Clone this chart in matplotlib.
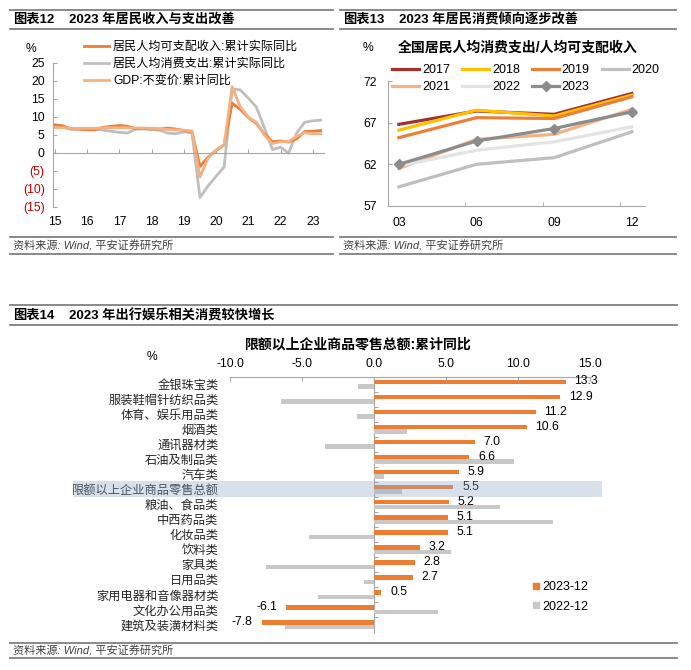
import matplotlib
matplotlib.use('Agg')
import matplotlib.pyplot as plt
import matplotlib.transforms as mtransforms
from matplotlib.lines import Line2D
from matplotlib.patches import Rectangle
import numpy as np

plt.rcParams['font.family'] = ['Liberation Sans', 'Noto Sans CJK SC']
plt.rcParams['font.size'] = 9
plt.rcParams['axes.unicode_minus'] = False

W, H = 691, 670

# ---- 图表12: 2015Q3 - 2023Q4, 累计同比 (%)
year_labels = ['15', '16', '17', '18', '19', '20', '21', '22', '23']
income = [7.7, 7.4, 6.5, 6.5, 6.3, 6.3, 7.0, 7.3, 7.5, 7.3, 6.6, 6.6, 6.6, 6.5, 6.8, 6.5, 6.1,
          5.8, -3.9, -1.3, 0.6, 2.1, 13.7, 12.0, 9.7, 8.1, 5.1, 3.0, 3.2, 2.9, 3.8, 5.8, 5.9, 6.1]
consumption = [7.0, 6.9, 6.6, 6.5, 6.4, 6.6, 6.2, 5.9, 5.6, 5.4, 6.5, 6.6, 6.3, 6.2, 5.4, 5.2, 5.7,
               5.5, -12.5, -9.3, -6.6, -4.0, 17.6, 17.4, 15.1, 12.6, 6.9, 0.8, 1.5, -0.2, 5.4, 8.4, 8.8, 9.0]
gdp = [6.9, 6.9, 6.7, 6.7, 6.7, 6.7, 6.9, 6.9, 6.9, 6.9, 6.8, 6.8, 6.7, 6.6, 6.4, 6.3, 6.2,
       6.0, -6.8, -1.6, 0.7, 2.2, 18.3, 12.7, 9.8, 8.4, 4.8, 2.5, 3.0, 3.0, 4.5, 5.5, 5.2, 5.2]

# ---- 图表13: 人均消费支出/人均可支配收入 (%)
months = ['03', '06', '09', '12']
r2017 = [66.8, 68.4, 68.0, 70.5]
r2018 = [66.1, 68.5, 67.8, 70.3]
r2019 = [65.2, 67.6, 67.5, 70.1]
r2020 = [59.3, 62.0, 62.8, 65.9]
r2021 = [61.5, 65.0, 65.6, 68.6]
r2022 = [61.8, 63.7, 64.7, 66.5]
r2023 = [62.0, 64.8, 66.3, 68.3]

# ---- 图表14: 限额以上企业商品零售总额:累计同比 (%)
categories = ['金银珠宝类', '服装鞋帽针纺织品类', '体育、娱乐用品类', '烟酒类', '通讯器材类',
              '石油及制品类', '汽车类', '限额以上企业商品零售总额', '粮油、食品类', '中西药品类',
              '化妆品类', '饮料类', '家具类', '日用品类', '家用电器和音像器材类',
              '文化办公用品类', '建筑及装潢材料类']
yoy_2023 = [13.3, 12.9, 11.2, 10.6, 7.0, 6.6, 5.9, 5.5, 5.2, 5.1, 5.1, 3.2, 2.8, 2.7, 0.5, -6.1, -7.8]
yoy_2022 = [-1.1, -6.5, -1.2, 2.3, -3.4, 9.7, 0.7, 1.9, 8.7, 12.4, -4.5, 5.3, -7.5, -0.7, -3.9, 4.4, -6.2]

ORANGE = '#ED7D31'
GRID = '#A6A6A6'
RULE = '#808080'

fig = plt.figure(figsize=(W / 100, H / 100), dpi=100)


def rect(x0, y0, x1, y1):
    return [x0 / W, 1 - y1 / H, (x1 - x0) / W, (y1 - y0) / H]


def ftext(x, y, s, **kw):
    kw.setdefault('va', 'center')
    fig.text(x / W, 1 - y / H, s, **kw)


def rule(x0, x1, y, lw=1.3):
    fig.add_artist(Line2D([x0 / W, x1 / W], [1 - y / H, 1 - y / H], lw=lw, color=RULE))


def frame(x0, x1, ytop, ytitle, yfoot, ybottom, num, title):
    rule(x0, x1, ytop)
    rule(x0, x1, ytitle)
    rule(x0, x1, yfoot)
    rule(x0, x1, ybottom)
    ftext(x0 + 3, (ytop + ytitle) / 2 + 0.5, '图表' + num, weight='bold', size=9.5)
    ftext(x0 + 59, (ytop + ytitle) / 2 + 0.5, title, weight='bold', size=9.5)
    ftext(x0 + 3, (yfoot + ybottom) / 2 + 0.5, '资料来源: Wind, 平安证券研究所',
          style='italic', size=8, color='#404040')


frame(10, 333, 9.5, 28.5, 237, 254, '12', '2023 年居民收入与支出改善')
frame(340, 676, 9.5, 28.5, 237, 254, '13', '2023 年居民消费倾向逐步改善')
frame(10, 677, 305, 325, 643, 658, '14', '2023 年出行娱乐相关消费较快增长')

# ---------------- 图表12
ax1 = fig.add_axes(rect(53, 62.5, 324, 206.5))
x = np.arange(len(income))
ax1.plot(x, consumption, color='#BFBFBF', lw=2, label='居民人均消费支出:累计实际同比')
ax1.plot(x, income, color=ORANGE, lw=2, label='居民人均可支配收入:累计实际同比')
ax1.plot(x, gdp, color='#F4B183', lw=2, label='GDP:不变价:累计同比')
ax1.set_xlim(-0.25, 33.4)
ax1.set_ylim(-15, 25)
for s in ['top', 'right']:
    ax1.spines[s].set_visible(False)
ax1.spines['left'].set_color(GRID)
ax1.spines['bottom'].set_color(GRID)
ax1.spines['bottom'].set_position(('data', 0))
yt = list(range(-15, 30, 5))
ax1.set_yticks(yt, [f'({-v})' if v < 0 else str(v) for v in yt])
for lab, v in zip(ax1.get_yticklabels(), yt):
    if v < 0:
        lab.set_color('#C00000')
ax1.tick_params(axis='y', direction='in', length=3, color=GRID, pad=6, labelsize=8.7)
ax1.set_xticks(np.arange(0, 33, 4))
ax1.tick_params(axis='x', direction='in', length=3, color=GRID, labelbottom=False)
sec1 = ax1.secondary_xaxis('bottom')
sec1.spines['bottom'].set_visible(False)
sec1.set_xticks(np.arange(0, 33, 4), year_labels)
sec1.tick_params(length=0, pad=7, labelsize=8.7)
h1, l1 = ax1.get_legend_handles_labels()
ax1.legend([h1[1], h1[0], h1[2]], [l1[1], l1[0], l1[2]], loc='upper left',
           bbox_to_anchor=(84 / W, 1 - 41 / H), bbox_transform=fig.transFigure,
           frameon=False, fontsize=8.7, handlelength=2.1, handletextpad=0.3,
           labelspacing=0.42, borderpad=0, borderaxespad=0)
ftext(31, 49, '%', ha='center', size=8.7)

# ---------------- 图表13
ax2 = fig.add_axes(rect(388, 81, 645, 206))
xm = np.arange(len(months))
series13 = [('2017', r2017, '#A0312E', None), ('2018', r2018, '#FFC000', None),
            ('2019', r2019, '#E8803A', None), ('2020', r2020, '#BFBFBF', None),
            ('2021', r2021, '#F4B183', None), ('2022', r2022, '#E3E3E3', None),
            ('2023', r2023, '#8C8C8C', 'D')]
handles = {}
for name, vals, col, mk in series13:
    ln, = ax2.plot(xm, vals, color=col, lw=2.3, marker=mk, markersize=5, label=name)
    handles[name] = ln
ax2.set_xlim(-0.14, 3.17)
ax2.set_ylim(57, 72)
for s in ['top', 'right']:
    ax2.spines[s].set_visible(False)
ax2.spines['left'].set_color(GRID)
ax2.spines['bottom'].set_color(GRID)
ax2.set_yticks([57, 62, 67, 72])
ax2.tick_params(axis='y', direction='in', length=3, color=GRID, pad=8, labelsize=8.7)
ax2.set_xticks(xm, months)
ax2.set_xticks(xm[1:] - 0.15, minor=True)
ax2.tick_params(axis='x', which='major', length=0, pad=8, labelsize=8.7)
ax2.tick_params(axis='x', which='minor', direction='in', length=3, color=GRID)
order = ['2017', '2021', '2018', '2022', '2019', '2023', '2020']
ax2.legend([handles[k] for k in order], order, ncol=4, loc='upper left',
           bbox_to_anchor=(392 / W, 1 - 64 / H), bbox_transform=fig.transFigure,
           frameon=False, fontsize=9, handlelength=2.2, handletextpad=0.2,
           columnspacing=0.95, labelspacing=0.42, borderpad=0, borderaxespad=0)
ftext(518, 48, '全国居民人均消费支出/人均可支配收入', ha='center', weight='bold', size=10)
ftext(368, 48, '%', ha='center', size=8.7)

# ---------------- 图表14
ax3 = fig.add_axes(rect(230.3, 376.5, 590.3, 632.5))
yc = np.arange(len(categories))
ax3.barh(yc - 0.15, yoy_2023, height=0.3, color=ORANGE, label='2023-12')
ax3.barh(yc + 0.15, yoy_2022, height=0.3, color='#C8C8C8', label='2022-12')
ax3.set_xlim(-10, 15)
ax3.set_ylim(len(categories) - 0.5, -0.5)
for s in ['left', 'right', 'bottom']:
    ax3.spines[s].set_visible(False)
ax3.spines['top'].set_color(GRID)
ax3.xaxis.tick_top()
xt = [-10, -5, 0, 5, 10, 15]
ax3.set_xticks(xt, [f'{v:.1f}' for v in xt])
ax3.tick_params(axis='x', direction='in', length=3, color=GRID, pad=5, labelsize=8.7)
ax3.set_yticks(yc, categories)
ax3.tick_params(axis='y', length=0, pad=8.5, labelsize=8.8, labelcolor='#262626')
for yy, v in zip(yc, yoy_2023):
    if v >= 0:
        ax3.text(v + 0.6, yy - 0.17, f'{v:.1f}', va='center', ha='left', size=8.7)
    else:
        ax3.text(v - 0.65, yy - 0.17, f'{v:.1f}', va='center', ha='right', size=8.7)
zero = ax3.secondary_yaxis(0.4)
zero.spines['left'].set_color(GRID)
zero.set_yticks(yc[:-1] + 0.5)
zero.tick_params(direction='in', length=3, color=GRID, labelleft=False, labelright=False)
hl = categories.index('限额以上企业商品零售总额')
band = Rectangle((73 / W, hl - 0.53), (602 - 73) / W, 1.06,
                 transform=mtransforms.blended_transform_factory(fig.transFigure, ax3.transData),
                 facecolor='#8FAAC8', alpha=0.35, lw=0, clip_on=False, zorder=3)
ax3.add_patch(band)
leg_h = [Line2D([], [], marker='s', ls='none', color=ORANGE, markersize=4.5),
         Line2D([], [], marker='s', ls='none', color='#C8C8C8', markersize=4.5)]
ax3.legend(leg_h, ['2023-12', '2022-12'], loc='upper left',
           bbox_to_anchor=(532 / W, 1 - 581 / H), bbox_transform=fig.transFigure,
           frameon=False, fontsize=9, handlelength=0.6, handletextpad=0.2,
           labelspacing=0.6, borderpad=0, borderaxespad=0)
ftext(358, 345, '限额以上企业商品零售总额:累计同比', ha='center', weight='bold', size=10)
ftext(152, 357, '%', ha='center', size=8.7)

fig.savefig('out.png', dpi=100)
